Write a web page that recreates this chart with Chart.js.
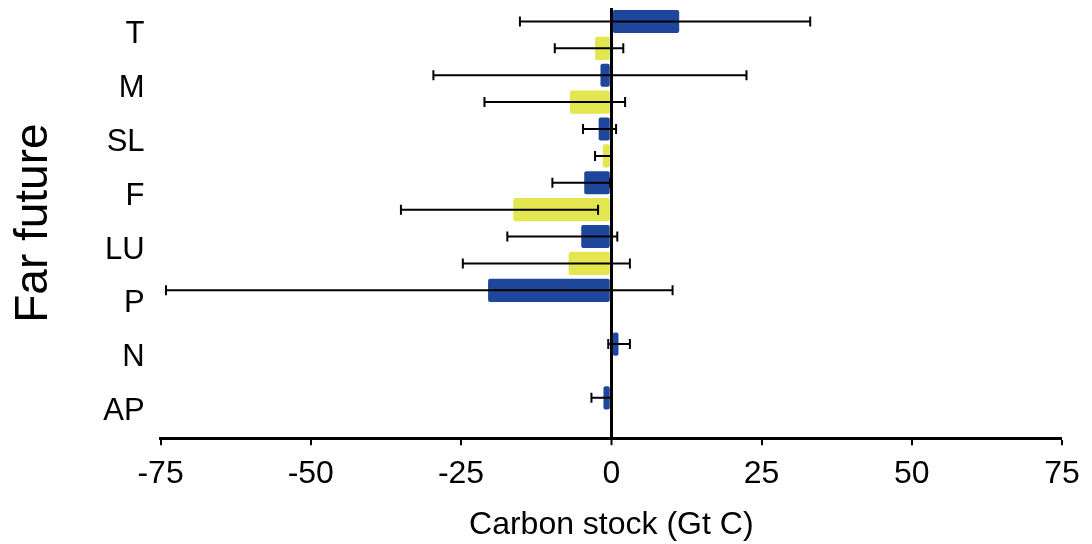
<!DOCTYPE html>
<html>
<head>
<meta charset="utf-8">
<script src="https://cdn.jsdelivr.net/npm/chart.js@4/dist/chart.umd.min.js"></script>
<style>
  html, body { margin: 0; padding: 0; background: #fff; }
  #wrap { width: 1092px; height: 544px; }
</style>
</head>
<body>
<div id="wrap"><canvas id="carbonChart" width="1092" height="544"></canvas></div>
<script>
"use strict";

const categories = ["T", "M", "SL", "F", "LU", "P", "N", "AP"];

const blueValues = [11.3, -1.8, -2.1, -4.5, -5.0, -20.5, 1.2, -1.3];
const blueLow = [-15.2, -29.6, -4.7, -9.8, -17.3, -74.1, -0.5, -3.3];
const blueHigh = [33.1, 22.5, 0.8, -0.2, 1.0, 10.2, 3.1, 0.0];

const yellowValues = [-2.7, -6.9, -1.4, -16.3, -7.1, null, null, null];
const yellowLow = [-9.4, -21.1, -2.7, -35.0, -24.7, null, null, null];
const yellowHigh = [2.0, 2.3, 0.1, -2.2, 3.1, null, null, null];

const xTicks = [-75, -50, -25, 0, 25, 50, 75];

const blueColor = "#1e479b";
const yellowColor = "#e4e64f";
const fontFamily = "'Liberation Sans', Arial, sans-serif";

const errorRanges = [
  { low: blueLow, high: blueHigh },
  { low: yellowLow, high: yellowHigh },
];

// whiskers + caps, drawn on top of the bars
const errorBarPlugin = {
  id: "errorBars",
  afterDatasetsDraw(chart) {
    const ctx = chart.ctx;
    const xScale = chart.scales.x;
    ctx.save();
    ctx.strokeStyle = "#000";
    ctx.lineWidth = 2;
    errorRanges.forEach((range, i) => {
      const meta = chart.getDatasetMeta(i);
      meta.data.forEach((bar, j) => {
        if (range.low[j] == null || range.high[j] == null) return;
        const y = bar.y;
        const x1 = xScale.getPixelForValue(range.low[j]);
        const x2 = xScale.getPixelForValue(range.high[j]);
        ctx.beginPath();
        ctx.moveTo(x1, y);
        ctx.lineTo(x2, y);
        ctx.moveTo(x1, y - 5);
        ctx.lineTo(x1, y + 5);
        ctx.moveTo(x2, y - 5);
        ctx.lineTo(x2, y + 5);
        ctx.stroke();
      });
    });
    ctx.restore();
  },
};

new Chart(document.getElementById("carbonChart"), {
  type: "bar",
  data: {
    labels: categories,
    datasets: [
      {
        data: blueValues,
        backgroundColor: blueColor,
        borderRadius: 2,
        borderSkipped: false,
        barPercentage: 0.86,
        categoryPercentage: 1.0,
      },
      {
        data: yellowValues,
        backgroundColor: yellowColor,
        borderRadius: 2,
        borderSkipped: false,
        barPercentage: 0.86,
        categoryPercentage: 1.0,
      },
    ],
  },
  options: {
    indexAxis: "y",
    responsive: false,
    animation: false,
    events: [],
    layout: {
      padding: { top: 8, right: 30, bottom: 0, left: 0 },
    },
    plugins: {
      legend: { display: false },
      tooltip: { enabled: false },
    },
    scales: {
      x: {
        min: -75,
        max: 75,
        z: 1,
        afterBuildTicks: (scale) => {
          scale.ticks = xTicks.map((v) => ({ value: v }));
        },
        border: { display: true, color: "#000", width: 3 },
        grid: {
          drawTicks: true,
          tickLength: 7,
          tickColor: "#000",
          tickWidth: 2,
          color: (c) => (c.tick && c.tick.value === 0 ? "#000" : "rgba(0,0,0,0)"),
          lineWidth: (c) => (c.tick && c.tick.value === 0 ? 3 : 0),
        },
        ticks: {
          color: "#000",
          padding: 10,
          maxRotation: 0,
          font: { family: fontFamily, size: 32 },
        },
        title: {
          display: true,
          text: "Carbon stock (Gt C)",
          color: "#000",
          font: { family: fontFamily, size: 32 },
          padding: { top: 2, bottom: 0 },
        },
      },
      y: {
        border: { display: false },
        grid: {
          display: true,
          drawOnChartArea: false,
          drawTicks: true,
          tickLength: 16,
          color: "rgba(0,0,0,0)",
        },
        afterFit: (scale) => {
          scale.paddingTop = 0;
          scale.paddingBottom = 0;
        },
        ticks: {
          color: "#000",
          padding: 0,
          font: { family: fontFamily, size: 31 },
        },
        title: {
          display: true,
          text: "Far future",
          color: "#000",
          font: { family: fontFamily, size: 46 },
          padding: { top: 7, bottom: 41 },
        },
      },
    },
  },
  plugins: [errorBarPlugin],
});
</script>
</body>
</html>
